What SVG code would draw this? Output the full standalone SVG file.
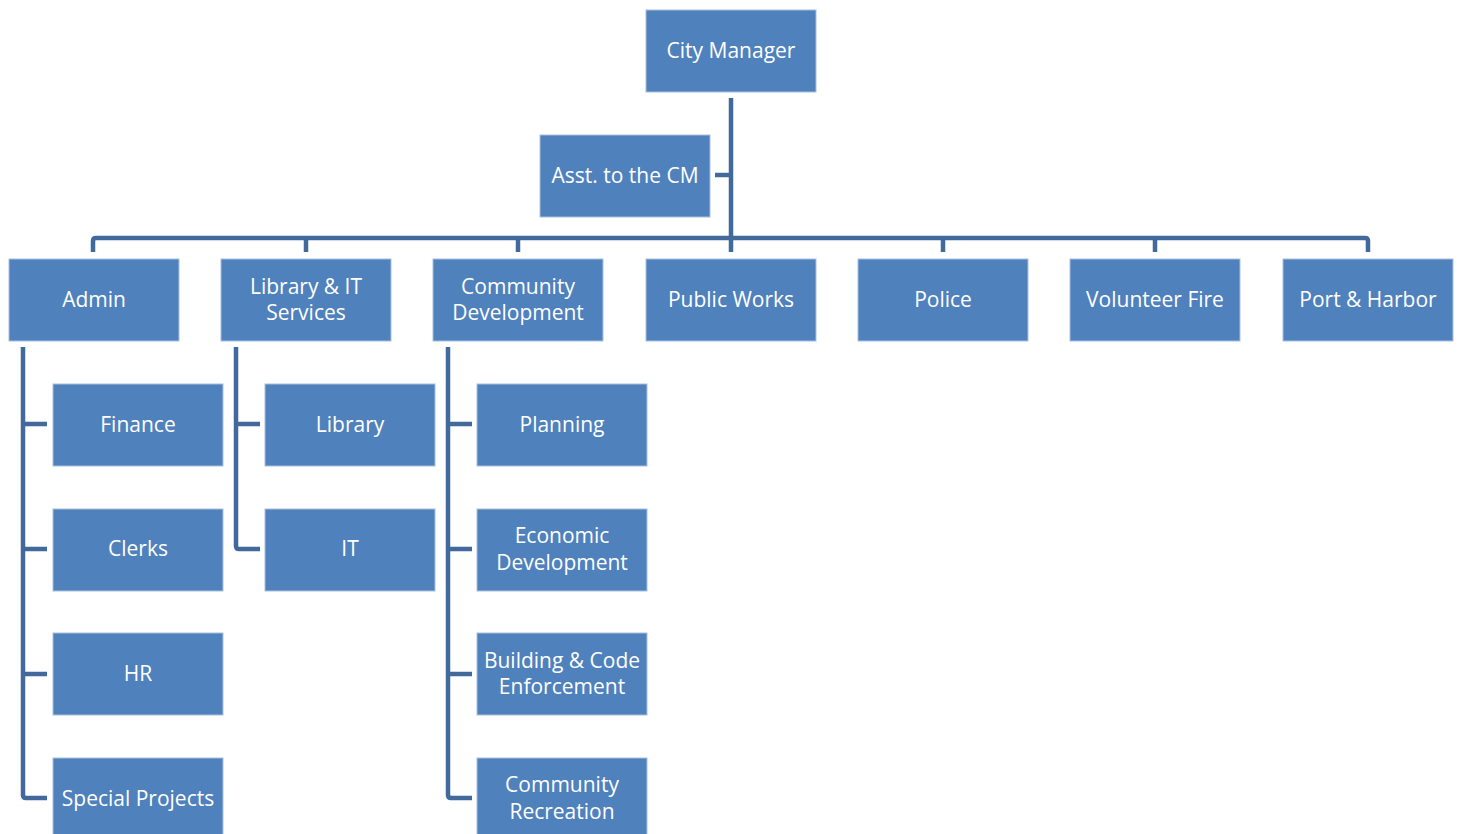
<svg xmlns="http://www.w3.org/2000/svg" width="1459" height="834" viewBox="0 0 1459 834">
<style>
.box{fill:#4F81BD;stroke:#A9C0DE;stroke-width:1}
.t{font-family:"Open Sans","Noto Sans",sans-serif;font-size:21px;fill:#FFFFFF;text-anchor:middle}
.c{fill:none;stroke:#41699B;stroke-width:4.5;stroke-linejoin:round}
</style>
<rect width="1459" height="834" fill="#FFFFFF"/>
<g id="connectors">
<path class="c" d="M731 98 V252"/>
<path class="c" d="M715 175 H731"/>
<path class="c" d="M93 252 V241 Q93 238 96 238 H1365 Q1368 238 1368 241 V252"/>
<path class="c" d="M306 238 V252 M518 238 V252 M943 238 V252 M1155 238 V252"/>
<path class="c" d="M23 347 V795 Q23 798 26 798 H47 M23 424 H47 M23 549 H47 M23 674 H47"/>
<path class="c" d="M236 347 V546 Q236 549 239 549 H260 M236 424 H260"/>
<path class="c" d="M448 347 V795 Q448 798 451 798 H472 M448 424 H472 M448 549 H472 M448 674 H472"/>
</g>
<g id="city-manager"><rect class="box" x="646" y="10" width="170" height="82"/><text class="t" x="731" y="58">City Manager</text></g>
<g id="asst"><rect class="box" x="540" y="135" width="170" height="82"/><text class="t" x="625" y="183">Asst. to the CM</text></g>
<g id="admin"><rect class="box" x="9" y="259" width="170" height="82"/><text class="t" x="94" y="307">Admin</text></g>
<g id="library-it"><rect class="box" x="221" y="259" width="170" height="82"/><text class="t" x="306" y="294">Library &amp; IT</text><text class="t" x="306" y="320">Services</text></g>
<g id="community-dev"><rect class="box" x="433" y="259" width="170" height="82"/><text class="t" x="518" y="294">Community</text><text class="t" x="518" y="320">Development</text></g>
<g id="public-works"><rect class="box" x="646" y="259" width="170" height="82"/><text class="t" x="731" y="307">Public Works</text></g>
<g id="police"><rect class="box" x="858" y="259" width="170" height="82"/><text class="t" x="943" y="307">Police</text></g>
<g id="volunteer-fire"><rect class="box" x="1070" y="259" width="170" height="82"/><text class="t" x="1155" y="307">Volunteer Fire</text></g>
<g id="port-harbor"><rect class="box" x="1283" y="259" width="170" height="82"/><text class="t" x="1368" y="307">Port &amp; Harbor</text></g>
<g id="finance"><rect class="box" x="53" y="384" width="170" height="82"/><text class="t" x="138" y="432">Finance</text></g>
<g id="clerks"><rect class="box" x="53" y="509" width="170" height="82"/><text class="t" x="138" y="556">Clerks</text></g>
<g id="hr"><rect class="box" x="53" y="633" width="170" height="82"/><text class="t" x="138" y="681">HR</text></g>
<g id="special-projects"><rect class="box" x="53" y="758" width="170" height="82"/><text class="t" x="138" y="806">Special Projects</text></g>
<g id="library"><rect class="box" x="265" y="384" width="170" height="82"/><text class="t" x="350" y="432">Library</text></g>
<g id="it"><rect class="box" x="265" y="509" width="170" height="82"/><text class="t" x="350" y="556">IT</text></g>
<g id="planning"><rect class="box" x="477" y="384" width="170" height="82"/><text class="t" x="562" y="432">Planning</text></g>
<g id="economic-dev"><rect class="box" x="477" y="509" width="170" height="82"/><text class="t" x="562" y="543">Economic</text><text class="t" x="562" y="570">Development</text></g>
<g id="building-code"><rect class="box" x="477" y="633" width="170" height="82"/><text class="t" x="562" y="668">Building &amp; Code</text><text class="t" x="562" y="694">Enforcement</text></g>
<g id="community-rec"><rect class="box" x="477" y="758" width="170" height="82"/><text class="t" x="562" y="792">Community</text><text class="t" x="562" y="819">Recreation</text></g>
</svg>
